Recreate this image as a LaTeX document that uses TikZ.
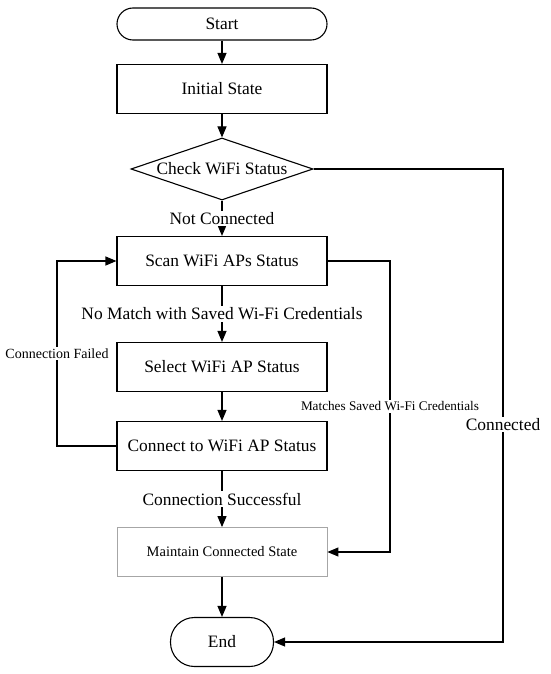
\documentclass[tikz,border=0pt]{standalone}
\usepackage{fontspec}
\setmainfont{Liberation Serif}
\usetikzlibrary{shapes.geometric,arrows.meta}
\begin{document}
\begin{tikzpicture}[x=1pt,y=-1pt,
  every node/.style={font=\fontsize{17.4}{19}\selectfont},
  box/.style={draw,line width=1.1pt,minimum width=210pt,minimum height=49pt,inner sep=0pt},
  grbox/.style={draw=gray!70,line width=0.8pt,minimum width=210pt,minimum height=49pt,inner sep=0pt,font=\fontsize{14.5}{16}\selectfont},
  term/.style={draw,line width=1.1pt,inner sep=0pt},
  dec/.style={draw,diamond,line width=1.1pt,inner sep=0pt,aspect=2.93,minimum width=182pt,minimum height=62pt},
  conn/.style={line width=1.1pt,-{Triangle[length=11pt,width=9pt]}},
  lab/.style={fill=white,inner sep=1.5pt},
  slab/.style={fill=white,inner sep=1.5pt,font=\fontsize{14}{16}\selectfont}]
\fill[white] (0,0) rectangle (550,674);
\useasboundingbox (0,0) rectangle (550,674);
\node[term,minimum width=210pt,minimum height=32pt,rounded corners=16pt] (start) at (222,24) {Start};
\node[box] (init) at (222,89) {Initial State};
\node[dec] (check) at (222,169) {Check WiFi Status};
\node[box] (scan) at (222,261) {Scan WiFi APs Status};
\node[box] (select) at (222,367) {Select WiFi AP Status};
\node[box] (connect) at (222,446) {Connect to WiFi AP Status};
\node[grbox] (maintain) at (222,552) {Maintain Connected State};
\node[term,minimum width=103pt,minimum height=49pt,rounded corners=24pt] (end) at (222,642) {End};
\coordinate (cr) at (503,169);
\coordinate (sr) at (390,261);
\coordinate (cl) at (57,446);
\draw[conn] (start) -- (init);
\draw[conn] (init) -- (check);
\draw[conn] (check) -- node[lab] {Not Connected} (scan);
\draw[conn] (scan) -- node[lab] {No Match with Saved Wi-Fi Credentials} (select);
\draw[conn] (select) -- (connect);
\draw[conn] (connect) -- node[lab] {Connection Successful} (maintain);
\draw[conn] (maintain) -- (end);
\draw[conn] (connect.west) -- (cl) -- node[slab,pos=0.5] {Connection Failed} (cl |- scan) -- (scan.west);
\draw[conn] (scan.east) -- (sr) -- node[slab,pos=0.5,font=\fontsize{13.2}{15}\selectfont] {Matches Saved Wi-Fi Credentials} (sr |- maintain) -- (maintain.east);
\draw[conn] (check.east) -- (cr) -- node[lab,pos=0.54] {Connected} (cr |- end) -- (end.east);
\end{tikzpicture}
\end{document}
